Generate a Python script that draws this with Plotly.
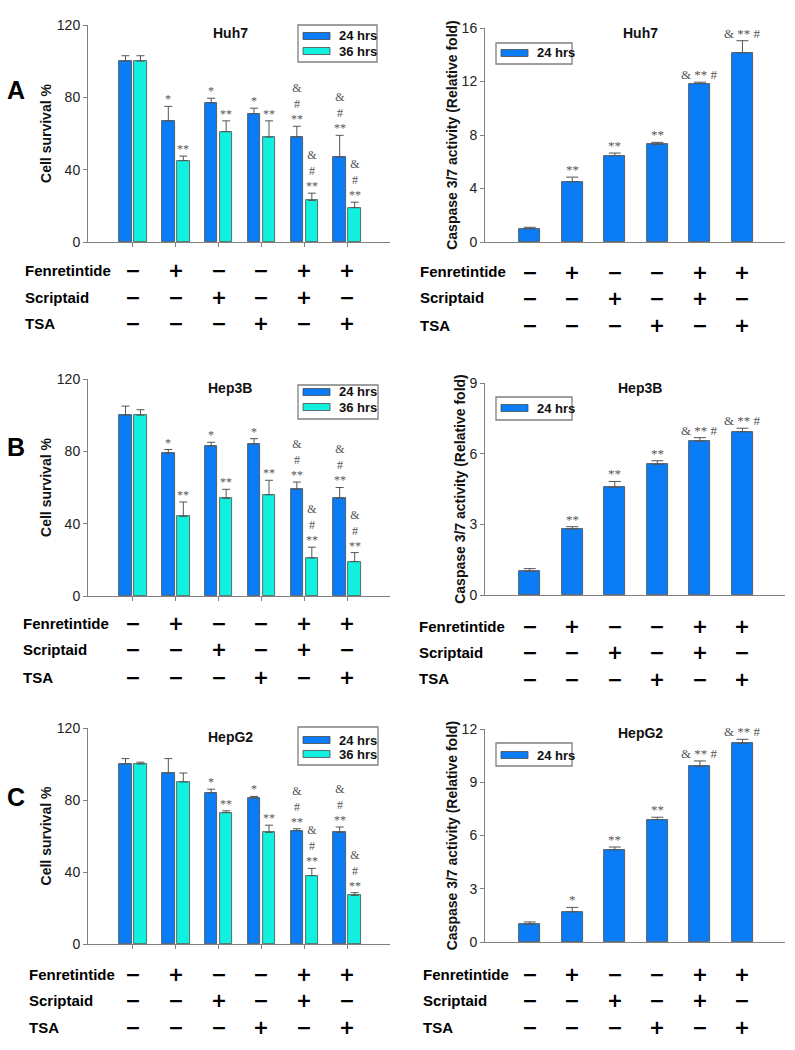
import plotly.graph_objects as go

# ---------------- data ----------------
groups = [0, 1, 2, 3, 4, 5]
fenretintide = ["-", "+", "-", "-", "+", "+"]
scriptaid = ["-", "-", "+", "-", "+", "-"]
tsa = ["-", "-", "-", "+", "-", "+"]
row_labels = ["Fenretintide", "Scriptaid", "TSA"]
series_names = ["24 hrs", "36 hrs"]
cell_lines = ["Huh7", "Hep3B", "HepG2"]
panel_letters = ["A", "B", "C"]

huh7_surv_24 = [100, 67, 77, 71, 58, 47]
huh7_surv_24_err = [3, 8, 2.5, 3, 6, 12]
huh7_surv_36 = [100, 45, 61, 58, 23, 19]
huh7_surv_36_err = [3, 2.5, 6, 9, 4, 3]
huh7_casp = [1.0, 4.5, 6.45, 7.3, 11.85, 14.15]
huh7_casp_err = [0.1, 0.35, 0.2, 0.15, 0.1, 0.9]

hep3b_surv_24 = [100, 79, 83, 84, 59, 54]
hep3b_surv_24_err = [5, 2, 2, 3, 4, 6]
hep3b_surv_36 = [100, 44, 54, 56, 21, 19]
hep3b_surv_36_err = [3, 8, 5, 8, 6, 5]
hep3b_casp = [1.0, 2.8, 4.57, 5.55, 6.53, 6.93]
hep3b_casp_err = [0.12, 0.1, 0.25, 0.15, 0.15, 0.15]

hepg2_surv_24 = [100, 95, 84, 81, 63, 62]
hepg2_surv_24_err = [3, 8, 2, 1, 1, 3]
hepg2_surv_36 = [100, 90, 73, 62, 38, 27]
hepg2_surv_36_err = [1, 5, 1, 4, 4, 1.5]
hepg2_casp = [1.0, 1.7, 5.2, 6.9, 9.9, 11.2]
hepg2_casp_err = [0.13, 0.25, 0.15, 0.13, 0.3, 0.22]

huh7_sig_24 = ["", "*", "*", "*", "&<br>#<br>**", "&<br>#<br>**"]
huh7_sig_36 = ["", "**", "**", "**", "&<br>#<br>**", "&<br>#<br>**"]
huh7_sig_casp = ["", "**", "**", "**", "& ** #", "& ** #"]
hep3b_sig_24 = ["", "*", "*", "*", "&<br>#<br>**", "&<br>#<br>**"]
hep3b_sig_36 = ["", "**", "**", "**", "&<br>#<br>**", "&<br>#<br>**"]
hep3b_sig_casp = ["", "**", "**", "**", "& ** #", "& ** #"]
hepg2_sig_24 = ["", "", "*", "*", "&<br>#<br>**", "&<br>#<br>**"]
hepg2_sig_36 = ["", "", "**", "**", "&<br>#<br>**", "&<br>#<br>**"]
hepg2_sig_casp = ["", "*", "**", "**", "& ** #", "& ** #"]

# ---------------- styling / layout constants ----------------
W, H = 795, 1050
BLUE = "#0A7CF5"
CYAN = "#12F0DF"
EDGE = "#4a4a4a"
AXC = "#808080"
SIGC = "#555555"
SANS = "Arial, Liberation Sans, sans-serif"
SERIF = "Liberation Serif, Times New Roman, serif"


def px(x):
    return x / W


def py(y):
    return 1 - y / H


panels = [
    dict(s24=huh7_surv_24, e24=huh7_surv_24_err, s36=huh7_surv_36, e36=huh7_surv_36_err,
         c=huh7_casp, ce=huh7_casp_err, g24=huh7_sig_24, g36=huh7_sig_36, gc=huh7_sig_casp,
         crange=16, cdt=4,
         L=dict(top=25, bot=242), R=dict(top=28, bot=242),
         rowsL=[270, 297, 323], rowsR=[272, 298, 325], labL=23, labR=418,
         letter_y=90, titleL_y=33, titleR_y=33,
         legL=dict(box=(298, 25, 377, 62), items=[36, 51]),
         legR=dict(box=(496, 43, 572, 64), items=[53])),
    dict(s24=hep3b_surv_24, e24=hep3b_surv_24_err, s36=hep3b_surv_36, e36=hep3b_surv_36_err,
         c=hep3b_casp, ce=hep3b_casp_err, g24=hep3b_sig_24, g36=hep3b_sig_36, gc=hep3b_sig_casp,
         crange=9, cdt=3,
         L=dict(top=379, bot=596), R=dict(top=383, bot=595),
         rowsL=[623, 649, 677], rowsR=[626, 652, 679], labL=21, labR=417,
         letter_y=447, titleL_y=388, titleR_y=388,
         legL=dict(box=(298, 385, 378, 419), items=[392, 407]),
         legR=dict(box=(496, 397, 572, 420), items=[408])),
    dict(s24=hepg2_surv_24, e24=hepg2_surv_24_err, s36=hepg2_surv_36, e36=hepg2_surv_36_err,
         c=hepg2_casp, ce=hepg2_casp_err, g24=hepg2_sig_24, g36=hepg2_sig_36, gc=hepg2_sig_casp,
         crange=12, cdt=3,
         L=dict(top=728, bot=944), R=dict(top=729, bot=942),
         rowsL=[974, 1000, 1027], rowsR=[974, 1000, 1027], labL=27, labR=421,
         letter_y=797, titleL_y=737, titleR_y=733,
         legL=dict(box=(298, 727, 378, 765), items=[740, 754]),
         legR=dict(box=(496, 743, 572, 766), items=[755])),
]

XL = (88, 390)
XR = (485, 785)
XRANGE = [-1.05, 6.0]
WL = 0.29
OFF24 = -0.32
OFF36 = 0.03
WR = 0.49

fig = go.Figure()
annotations = []
shapes = []
layout = {}


def add_legend(spec, names, colors):
    x0, y0, x1, y1 = spec["box"]
    shapes.append(dict(type="rect", xref="paper", yref="paper", x0=px(x0), x1=px(x1),
                       y0=py(y1), y1=py(y0), line=dict(color="#808080", width=1.3),
                       fillcolor="white", layer="above"))
    for yc, nm, col in zip(spec["items"], names, colors):
        shapes.append(dict(type="rect", xref="paper", yref="paper",
                           x0=px(x0 + 5), x1=px(x0 + 32), y0=py(yc + 3.5), y1=py(yc - 3.5),
                           line=dict(color=EDGE, width=0.8), fillcolor=col, layer="above"))
        annotations.append(dict(x=px(x0 + 39), y=py(yc), xref="paper", yref="paper",
                                text=f"<b>{nm}</b>", showarrow=False, xanchor="left", yanchor="middle",
                                font=dict(family=SANS, size=13, color="#111")))


for p_i, p in enumerate(panels):
    nL = 2 * p_i + 1
    nR = 2 * p_i + 2
    xl = "x" if nL == 1 else f"x{nL}"
    yl = "y" if nL == 1 else f"y{nL}"
    xr = f"x{nR}"
    yr = f"y{nR}"

    # ---- survival bars ----
    for name, vals, errs, col, off, sig in [
        (series_names[0], p["s24"], p["e24"], BLUE, OFF24, p["g24"]),
        (series_names[1], p["s36"], p["e36"], CYAN, OFF36, p["g36"]),
    ]:
        fig.add_trace(go.Bar(
            x=groups, y=vals, width=WL, offset=off, name=name,
            marker=dict(color=col, line=dict(color=EDGE, width=0.8)),
            error_y=dict(type="data", array=errs, arrayminus=[0] * len(errs), symmetric=False,
                         color=SIGC, thickness=1, width=4),
            xaxis=xl, yaxis=yl, showlegend=False,
        ))
        for g, v, e, s in zip(groups, vals, errs, sig):
            if s:
                annotations.append(dict(
                    x=g + off + WL / 2, y=v + e, xref=xl, yref=yl, text=s, showarrow=False,
                    xanchor="center", yanchor="bottom", yshift=-2,
                    font=dict(family=SERIF, size=12, color=SIGC)))

    # ---- caspase bars ----
    fig.add_trace(go.Bar(
        x=groups, y=p["c"], width=WR, offset=-WR / 2, name=series_names[0],
        marker=dict(color=BLUE, line=dict(color=EDGE, width=0.8)),
        error_y=dict(type="data", array=p["ce"], arrayminus=[0] * 6, symmetric=False,
                     color=SIGC, thickness=1, width=6),
        xaxis=xr, yaxis=yr, showlegend=False,
    ))
    for g, v, e, s in zip(groups, p["c"], p["ce"], p["gc"]):
        if s:
            annotations.append(dict(
                x=g, y=v + e, xref=xr, yref=yr, text=s, showarrow=False,
                xanchor="center", yanchor="bottom", yshift=-2,
                font=dict(family=SERIF, size=13, color=SIGC)))

    # ---- axes ----
    common_x = dict(range=XRANGE, showline=True, linecolor=AXC, linewidth=1, showgrid=False,
                    zeroline=False, showticklabels=False, fixedrange=True)
    common_y = dict(showline=True, linecolor=AXC, linewidth=1, showgrid=False, zeroline=False,
                    ticks="outside", ticklen=4, tickcolor=AXC,
                    tickfont=dict(family=SANS, size=14, color="#222"),
                    automargin=False)
    kx = "xaxis" if nL == 1 else f"xaxis{nL}"
    ky = "yaxis" if nL == 1 else f"yaxis{nL}"
    layout[kx] = dict(common_x, domain=[px(XL[0]), px(XL[1])], anchor=yl,
                      ticks="outside", ticklen=4, tickcolor=AXC, tickvals=groups)
    layout[ky] = dict(common_y, domain=[py(p["L"]["bot"]), py(p["L"]["top"])], anchor=xl,
                      range=[0, 120], dtick=40,
                      title=dict(text="<b>Cell survival %</b>", standoff=1,
                                 font=dict(family=SANS, size=14, color="#111")))
    layout[f"xaxis{nR}"] = dict(common_x, domain=[px(XR[0]), px(XR[1])], anchor=yr, ticks="")
    layout[f"yaxis{nR}"] = dict(common_y, domain=[py(p["R"]["bot"]), py(p["R"]["top"])], anchor=xr,
                                range=[0, p["crange"]], dtick=p["cdt"],
                                title=dict(text="<b>Caspase 3/7 activity (Relative fold)</b>", standoff=0,
                                           font=dict(family=SANS, size=14, color="#111")))

    # ---- legends ----
    add_legend(p["legL"], series_names, [BLUE, CYAN])
    add_legend(p["legR"], series_names[:1], [BLUE])

    # ---- titles and letter ----
    for tx, ty in [(230, p["titleL_y"]), (640, p["titleR_y"])]:
        annotations.append(dict(x=px(tx), y=py(ty), xref="paper", yref="paper",
                                text=f"<b>{cell_lines[p_i]}</b>", showarrow=False,
                                xanchor="center", yanchor="middle",
                                font=dict(family=SANS, size=14, color="#111")))
    annotations.append(dict(x=px(16), y=py(p["letter_y"]), xref="paper", yref="paper",
                            text=f"<b>{panel_letters[p_i]}</b>", showarrow=False,
                            xanchor="center", yanchor="middle",
                            font=dict(family=SANS, size=25, color="#000")))

    # ---- treatment table ----
    for rows, labx, xref in [(p["rowsL"], p["labL"], xl), (p["rowsR"], p["labR"], xr)]:
        for r_i, (lab, signs) in enumerate(zip(row_labels, [fenretintide, scriptaid, tsa])):
            annotations.append(dict(x=px(labx), y=py(rows[r_i]), xref="paper", yref="paper",
                                    text=f"<b>{lab}</b>", showarrow=False,
                                    xanchor="left", yanchor="middle",
                                    font=dict(family=SANS, size=15, color="#000")))
            for g, s in zip(groups, signs):
                annotations.append(dict(x=g, y=py(rows[r_i]), xref=xref, yref="paper",
                                        text="<b>+</b>" if s == "+" else "<b>\u2212</b>",
                                        showarrow=False, xanchor="center", yanchor="middle",
                                        font=dict(family="DejaVu Sans", size=19, color="#000")))

fig.update_layout(
    width=W, height=H, margin=dict(l=0, r=0, t=0, b=0),
    paper_bgcolor="white", plot_bgcolor="white",
    annotations=annotations, shapes=shapes, bargap=0, **layout,
)

fig.write_html("out.html", config={"displayModeBar": False},
               post_script="document.body.style.margin='0';")
